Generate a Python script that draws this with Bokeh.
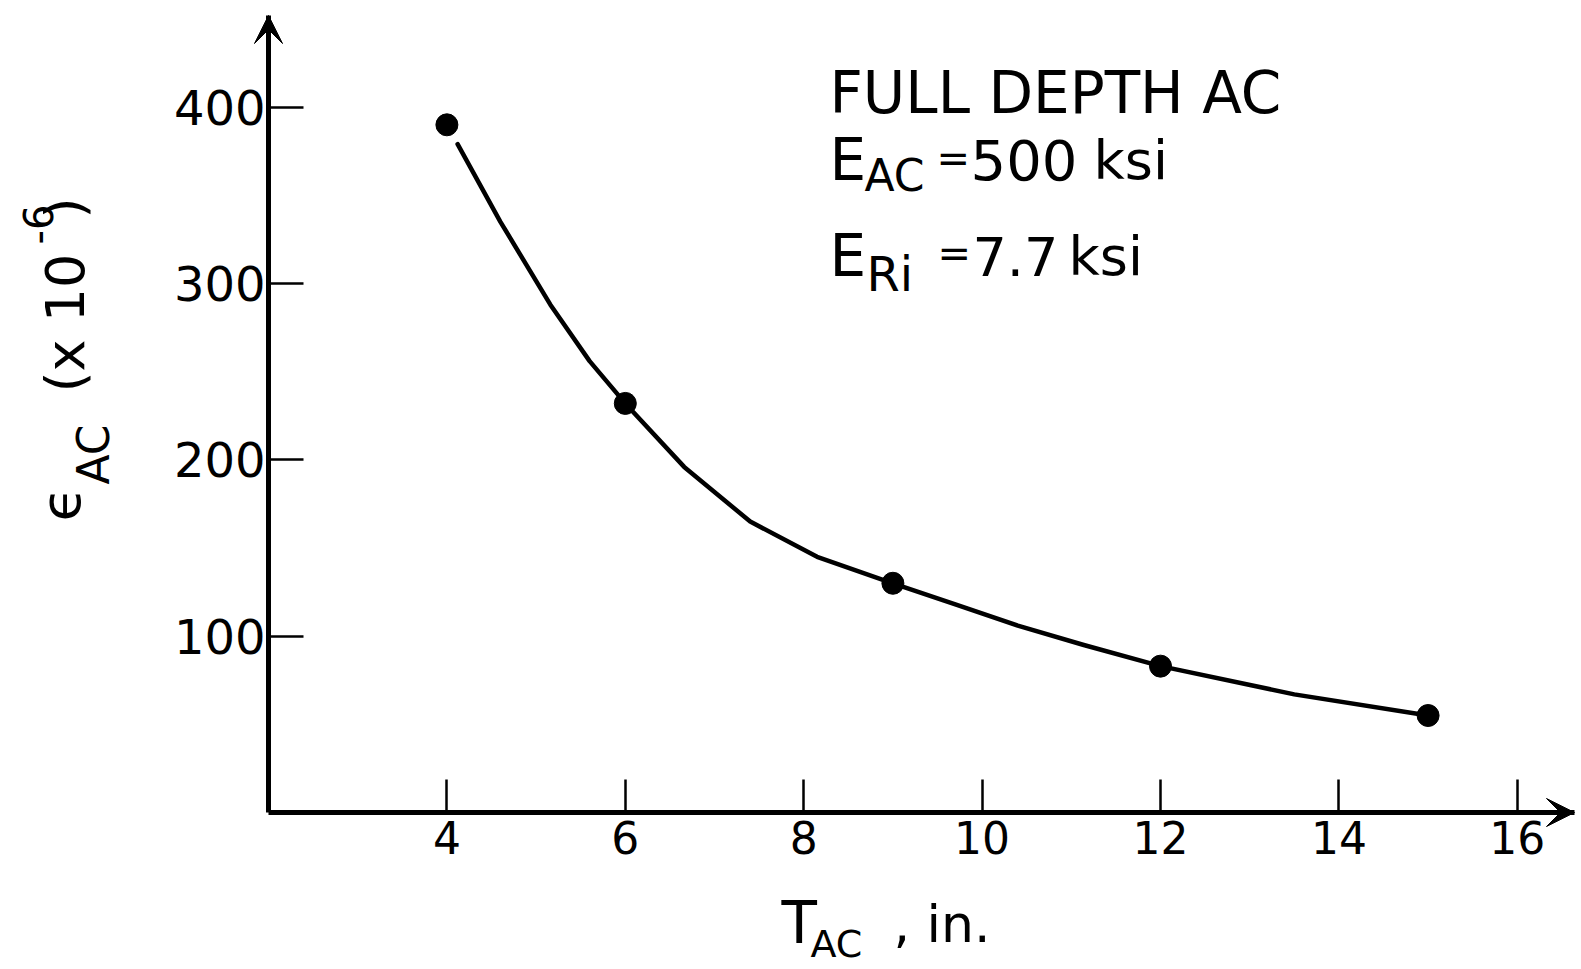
import math
from bokeh.plotting import figure
from bokeh.models import Label, Arrow, VeeHead, FixedTicker, Range1d
from bokeh.embed import file_html
from bokeh.resources import INLINE

# ---- data ----
thickness_in = [4, 6, 9, 12, 15]                 # T_AC, in.
strain_micro = [390, 232, 130, 83, 55]           # eps_AC (x10^-6)

# hand-drawn smooth curve through the points
curve_x = [4.12, 4.6, 5.16, 5.6, 6.0, 6.66, 7.4, 8.15, 9.0, 9.7, 10.4, 11.14, 12.0, 13.5, 15.0]
curve_y = [379, 335, 288, 256, 232, 196, 165, 145, 130, 118, 106, 95, 83, 67, 55]

x_ticks = [4, 6, 8, 10, 12, 14, 16]
y_ticks = [100, 200, 300, 400]

# ---- layout (canvas pixels) ----
W, H = 1576, 965
AXIS_PX = 268        # pixel column of the y axis (x = 2)
ZERO_PY = 812        # pixel row of the x axis (y = 0)
PX_PER_X = 89.2
PX_PER_Y = 1.7633
X_AXIS_AT, Y_AXIS_AT = 2, 0

X0 = X_AXIS_AT - AXIS_PX / PX_PER_X
X1 = X_AXIS_AT + (W - AXIS_PX) / PX_PER_X
Y0 = Y_AXIS_AT - (H - ZERO_PY) / PX_PER_Y
Y1 = Y_AXIS_AT + ZERO_PY / PX_PER_Y
Y_TOP = Y_AXIS_AT + (ZERO_PY - 15) / PX_PER_Y    # arrow tip of y axis
X_END = X1 - 2 / PX_PER_X                        # arrow tip of x axis

FONT = "DejaVu Sans"

p = figure(width=W, height=H, x_range=Range1d(X0, X1), y_range=Range1d(Y0, Y1),
           output_backend="svg", toolbar_location=None,
           min_border=0, min_border_left=0, min_border_right=0,
           min_border_top=0, min_border_bottom=0)
p.outline_line_color = None
p.grid.visible = False
p.background_fill_color = "white"
p.border_fill_color = "white"

p.xaxis.fixed_location = Y_AXIS_AT
p.yaxis.fixed_location = X_AXIS_AT
p.xaxis.bounds = (X_AXIS_AT, X_END)
p.yaxis.bounds = (Y_AXIS_AT, Y_TOP)

for ax, ticks, fs, tick_len, standoff in ((p.xaxis, x_ticks, "44px", 33, 8),
                                          (p.yaxis, y_ticks, "48px", 35, 3)):
    ax.ticker = FixedTicker(ticks=ticks)
    ax.axis_line_width = 5
    ax.axis_line_color = "black"
    ax.major_tick_in = tick_len
    ax.major_tick_out = 0
    ax.major_tick_line_width = 2.5
    ax.major_tick_line_color = "black"
    ax.minor_tick_line_color = None
    ax.major_label_text_font = FONT
    ax.major_label_text_font_size = fs
    ax.major_label_text_color = "black"
    ax.major_label_standoff = standoff
    ax.axis_label = None

# curve and points
p.line(curve_x, curve_y, line_width=4.5, line_color="black", line_join="round", line_cap="round")
p.scatter(thickness_in, strain_micro, size=22, fill_color="black", line_color="black")

# axis arrow heads
p.add_layout(Arrow(x_start=X_AXIS_AT, y_start=Y_TOP - 20, x_end=X_AXIS_AT, y_end=Y_TOP,
                   line_color=None,
                   end=VeeHead(size=28, fill_color="black", line_color="black")))
p.add_layout(Arrow(x_start=X_END - 0.3, y_start=Y_AXIS_AT, x_end=X_END, y_end=Y_AXIS_AT,
                   line_color=None,
                   end=VeeHead(size=28, fill_color="black", line_color="black")))


def X(px):
    return X_AXIS_AT + (px - AXIS_PX) / PX_PER_X


def Y(py):
    return Y_AXIS_AT + (ZERO_PY - py) / PX_PER_Y


BASE_SHIFT = 0.31   # Label draws its baseline this many ems lower than its anchor


def lab(text, px, py, size, angle=0.0):
    if angle == 0.0:
        py = py - BASE_SHIFT * size
    else:
        px = px - BASE_SHIFT * size
    p.add_layout(Label(x=X(px), y=Y(py), text=text, text_font=FONT,
                       text_font_size=f"{size}px", text_color="black",
                       text_align="left", text_baseline="alphabetic", angle=angle))


# annotation block
lab("FULL DEPTH AC", 829, 110, 58)
lab("E", 829, 177, 58)
lab("AC", 864, 189, 44)
lab("=", 936, 170, 40)
lab("500", 970, 177, 56)
lab("ksi", 1093, 177, 54)
lab("E", 829, 273, 58)
lab("Ri", 866, 288, 48)
lab("=", 937, 265, 40)
lab("7.7", 972, 273, 54)
lab("ksi", 1068, 273, 54)

# x axis title
lab("T", 781, 940, 58)
lab("AC", 810, 955, 38)
lab(", in.", 893, 940, 52)

# y axis title (rotated)
R = math.pi / 2
lab("\u03f5", 77, 521, 56, R)
lab("AC", 107, 484, 44, R)
lab("(x 10", 82, 392, 54, R)
lab("-6", 50, 244, 40, R)
lab(")", 82, 218, 54, R)

open("out.html", "w").write(file_html(p, INLINE))
